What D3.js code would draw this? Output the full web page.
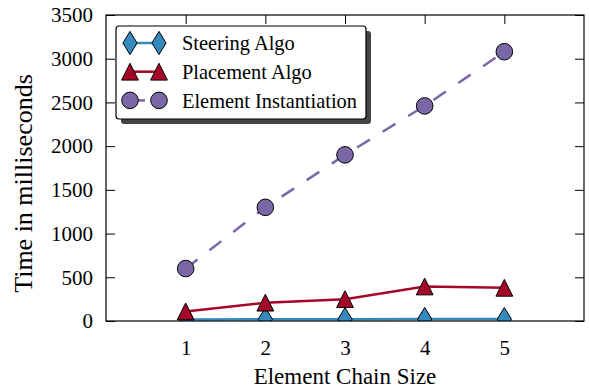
<!DOCTYPE html>
<html>
<head>
<meta charset="utf-8">
<script src="https://cdn.jsdelivr.net/npm/d3@7"></script>
<style>
  html, body { margin: 0; padding: 0; background: #fff; }
  svg { display: block; }
  text { font-family: "Liberation Serif", "DejaVu Serif", serif; fill: #000; }
</style>
</head>
<body>
<svg id="chart" width="589" height="388"></svg>
<script>
// Chain sizes along the x axis
const chainSizes = [1, 2, 3, 4, 5];
// Timings in milliseconds per algorithm stage
const steeringAlgo = [18, 20, 20, 22, 22];
const placementAlgo = [110, 210, 250, 395, 380];
const elementInstantiation = [600, 1300, 1900, 2460, 3080];
// Axis ticks
const xTicks = [1, 2, 3, 4, 5];
const yTicks = [0, 500, 1000, 1500, 2000, 2500, 3000, 3500];

const series = [
  { name: "Steering Algo", values: steeringAlgo, color: "#348ABD", marker: "diamond", dash: null },
  { name: "Placement Algo", values: placementAlgo, color: "#A60628", marker: "triangle", dash: null },
  { name: "Element Instantiation", values: elementInstantiation, color: "#7A68A6", marker: "circle", dash: "15,15" }
];

const svg = d3.select("#chart");
const plotL = 106, plotR = 584, plotT = 15, plotB = 321;

const x = d3.scaleLinear().domain([0, 6]).range([plotL, plotR]);
const y = d3.scaleLinear().domain([0, 3500]).range([plotB, plotT]);

// Clip marks to the plotting area
svg.append("defs").append("clipPath").attr("id", "plot-clip")
  .append("rect").attr("x", plotL).attr("y", plotT)
  .attr("width", plotR - plotL).attr("height", plotB - plotT);

const tickLen = 9;
const fontTick = 21;
const fmt = d3.format("d");

// Axes with inward ticks on all four sides
const axisLeft = d3.axisLeft(y).tickValues(yTicks).tickFormat(fmt).tickSizeInner(-tickLen).tickSizeOuter(0).tickPadding(13);
const axisRight = d3.axisRight(y).tickValues(yTicks).tickSizeInner(-tickLen).tickSizeOuter(0).tickFormat("");
const axisBottom = d3.axisBottom(x).tickValues(xTicks).tickFormat(fmt).tickSizeInner(-tickLen).tickSizeOuter(0).tickPadding(19);
const axisTop = d3.axisTop(x).tickValues(xTicks).tickSizeInner(-tickLen).tickSizeOuter(0).tickFormat("");

function styleAxis(g) {
  g.select(".domain").remove();
  g.selectAll("line").attr("stroke", "#000").attr("stroke-width", 1);
  g.selectAll("text").style("font-family", '"Liberation Serif", serif')
    .style("font-size", fontTick + "px").attr("fill", "#000");
}

svg.append("g").attr("transform", `translate(${plotL},0)`).call(axisLeft).call(styleAxis);
svg.append("g").attr("transform", `translate(${plotR},0)`).call(axisRight).call(styleAxis);
svg.append("g").attr("transform", `translate(0,${plotB})`).call(axisBottom).call(styleAxis);
svg.append("g").attr("transform", `translate(0,${plotT})`).call(axisTop).call(styleAxis);

// Marker shapes: thin diamond, upward triangle, circle
function markerPath(type) {
  if (type === "diamond") {
    const w = 7.1, h = 11.6;
    return `M0,${-h}L${w},0L0,${h}L${-w},0Z`;
  }
  if (type === "triangle") {
    const s = 8.4;
    return `M0,${-s}L${s},${s}L${-s},${s}Z`;
  }
  return d3.symbol().type(d3.symbolCircle).size(Math.PI * 8.3 * 8.3)();
}

const plot = svg.append("g").attr("clip-path", "url(#plot-clip)");
const line = d3.line().x((d, i) => x(chainSizes[i])).y(d => y(d));

series.forEach(s => {
  plot.append("path")
    .attr("d", line(s.values))
    .attr("fill", "none")
    .attr("stroke", s.color)
    .attr("stroke-width", 2.5)
    .attr("stroke-dasharray", s.dash);
  plot.selectAll(null).data(s.values).enter().append("path")
    .attr("d", markerPath(s.marker))
    .attr("transform", (d, i) => `translate(${x(chainSizes[i])},${y(d)})`)
    .attr("fill", s.color)
    .attr("stroke", "#000")
    .attr("stroke-width", 1);
});

// Plot frame
svg.append("rect").attr("x", plotL).attr("y", plotT)
  .attr("width", plotR - plotL).attr("height", plotB - plotT)
  .attr("fill", "none").attr("stroke", "#000").attr("stroke-width", 1.2);

// Axis titles
svg.append("text")
  .attr("x", (plotL + plotR) / 2).attr("y", 384)
  .attr("text-anchor", "middle").style("font-size", "23px")
  .text("Element Chain Size");
svg.append("text")
  .attr("transform", `translate(32,183.5) rotate(-90)`)
  .attr("text-anchor", "middle").style("font-size", "26px")
  .text("Time in milliseconds");

// Legend with drop shadow
const lg = svg.append("g");
const lx = 116, ly = 26, lw = 250, lh = 93;
lg.append("rect").attr("x", lx + 5).attr("y", ly + 5).attr("width", lw).attr("height", lh)
  .attr("rx", 3).attr("fill", "#444");
lg.append("rect").attr("x", lx).attr("y", ly).attr("width", lw).attr("height", lh)
  .attr("rx", 3).attr("fill", "#fff").attr("stroke", "#000").attr("stroke-width", 1.2);

series.forEach((s, i) => {
  const cy = 43 + i * 28.7;
  const row = lg.append("g");
  row.append("line").attr("x1", 130).attr("x2", 159).attr("y1", cy).attr("y2", cy)
    .attr("stroke", s.color).attr("stroke-width", 2.5)
    .attr("stroke-dasharray", s.dash);
  [130, 159].forEach(mx => {
    row.append("path").attr("d", markerPath(s.marker))
      .attr("transform", `translate(${mx},${cy})`)
      .attr("fill", s.color).attr("stroke", "#000").attr("stroke-width", 1);
  });
  row.append("text").attr("x", 182).attr("y", cy).attr("dy", "0.35em")
    .style("font-size", "20.4px").text(s.name);
});
</script>
</body>
</html>
